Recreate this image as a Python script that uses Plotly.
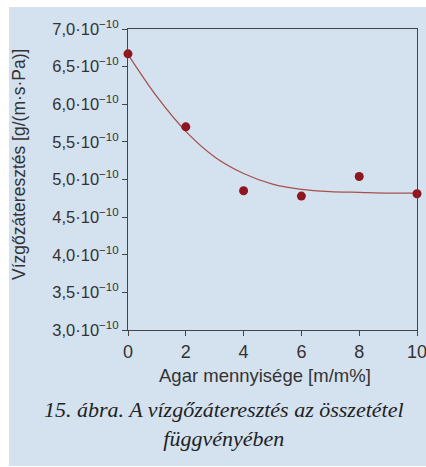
import plotly.graph_objects as go

# Data (values in units of 1e-10 g/(m·s·Pa))
agar = [0, 2, 4, 6, 8, 10]
permeability = [6.67, 5.70, 4.85, 4.78, 5.04, 4.81]

# Fitted trend curve
fit_x = [0, 1, 2, 3, 4, 5, 6, 7, 8, 9, 10]
fit_y = [6.66, 6.10, 5.64, 5.30, 5.08, 4.94, 4.87, 4.84, 4.83, 4.82, 4.82]

y_ticks = [3.0, 3.5, 4.0, 4.5, 5.0, 5.5, 6.0, 6.5, 7.0]
y_ticktext = [f"{v:.1f}".replace(".", ",") + "·10<sup>−10</sup>" for v in y_ticks]
x_ticks = [0, 2, 4, 6, 8, 10]

W, H = 426, 467
L, R, T, B = 128, 9, 29, 137
pw, ph = W - L - R, H - T - B

def px(x):
    return (x - L) / pw

def py(y):
    return (H - B - y) / ph

fig = go.Figure()
fig.add_trace(go.Scatter(
    x=fit_x, y=fit_y, mode="lines",
    line=dict(color="#a5524c", width=1.3, shape="spline", smoothing=0.8),
    hoverinfo="skip", showlegend=False,
))
fig.add_trace(go.Scatter(
    x=agar, y=permeability, mode="markers",
    marker=dict(color="#8e1620", size=9), cliponaxis=False, showlegend=False,
))

fig.add_shape(type="rect", xref="paper", yref="paper",
              x0=px(9), x1=px(430), y0=py(466), y1=py(7),
              fillcolor="#d4e1ef", line=dict(width=0), layer="below")

fig.add_annotation(xref="paper", yref="paper", x=px(265), y=py(375),
                   text="Agar mennyisége [m/m%]", showarrow=False,
                   font=dict(family="Liberation Sans, Arial", size=18.5, color="#333"),
                   xanchor="center", yanchor="middle")
fig.add_annotation(xref="paper", yref="paper", x=px(19), y=py(165),
                   text="Vízgőzáteresztés [g/(m·s·Pa)]", showarrow=False, textangle=-90,
                   font=dict(family="Liberation Sans, Arial", size=17.5, color="#333"),
                   xanchor="center", yanchor="middle")
fig.add_annotation(xref="paper", yref="paper", x=px(224), y=py(424),
                   text="<i>15. ábra. A vízgőzáteresztés az összetétel<br>függvényében</i>",
                   showarrow=False, align="center",
                   font=dict(family="Liberation Serif, Times New Roman", size=22, color="#222"),
                   xanchor="center", yanchor="middle")

fig.update_layout(
    width=W, height=H,
    margin=dict(l=L, r=R, t=T, b=B, autoexpand=False),
    paper_bgcolor="white",
    plot_bgcolor="#f4f7fb",
    font=dict(family="Liberation Sans, Arial", color="#333"),
)
fig.update_xaxes(
    range=[0, 10], tickvals=x_ticks, ticks="outside", ticklen=5, tickcolor="#444",
    showline=True, linecolor="#444", linewidth=1, mirror=True, showgrid=False, zeroline=False,
    tickfont=dict(size=18, color="#333"), ticklabeloverflow="allow", automargin=False,
)
fig.update_yaxes(
    range=[3.0, 7.0], tickvals=y_ticks, ticktext=y_ticktext, ticks="outside", ticklen=5,
    tickcolor="#444", showline=True, linecolor="#444", linewidth=1, mirror=True,
    showgrid=False, zeroline=False, tickfont=dict(size=16.5, color="#333"), automargin=False,
)

fig.write_html("out.html")
